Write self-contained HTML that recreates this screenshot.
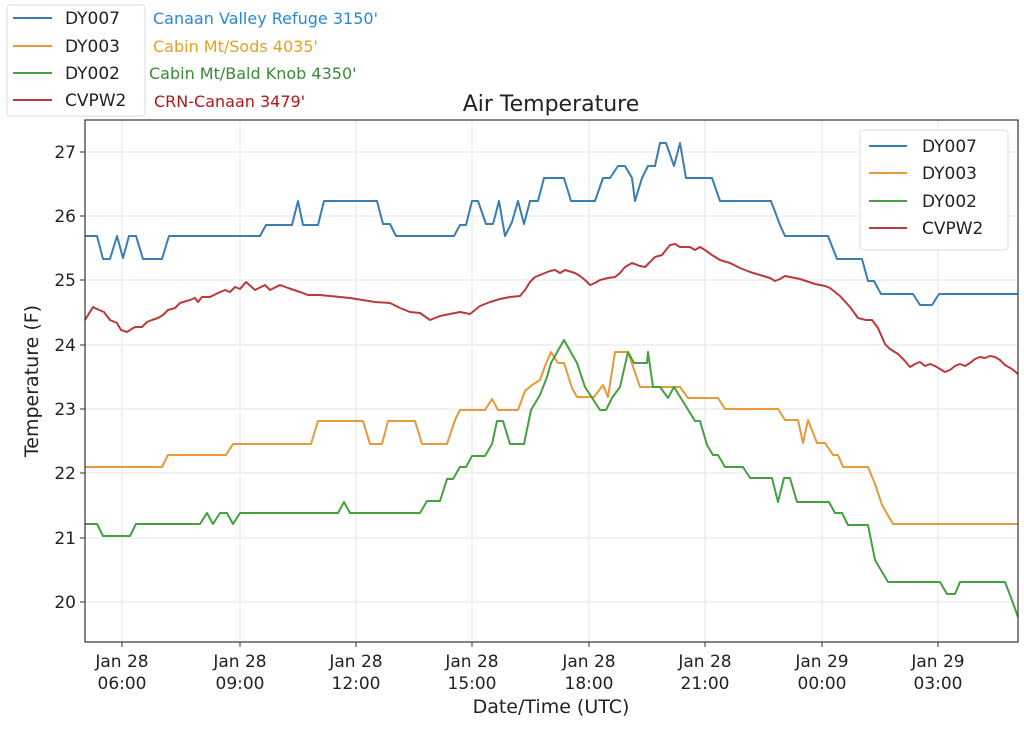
<!DOCTYPE html>
<html><head><meta charset="utf-8"><style>
body{margin:0;background:#fff;width:1024px;height:728px;overflow:hidden}
svg text{font-family:"DejaVu Sans","Liberation Sans",sans-serif}
</style></head><body>
<svg width="1024" height="728" viewBox="0 0 1024 728">
<rect x="0" y="0" width="1024" height="728" fill="#fff"/>
<g stroke="#e6e6e6" stroke-width="1">
<line x1="122" y1="120" x2="122" y2="642"/><line x1="240" y1="120" x2="240" y2="642"/><line x1="356" y1="120" x2="356" y2="642"/><line x1="472" y1="120" x2="472" y2="642"/><line x1="589" y1="120" x2="589" y2="642"/><line x1="705" y1="120" x2="705" y2="642"/><line x1="822" y1="120" x2="822" y2="642"/><line x1="938" y1="120" x2="938" y2="642"/>
<line x1="85" y1="152" x2="1018" y2="152"/><line x1="85" y1="216" x2="1018" y2="216"/><line x1="85" y1="280" x2="1018" y2="280"/><line x1="85" y1="345" x2="1018" y2="345"/><line x1="85" y1="409" x2="1018" y2="409"/><line x1="85" y1="473" x2="1018" y2="473"/><line x1="85" y1="538" x2="1018" y2="538"/><line x1="85" y1="602" x2="1018" y2="602"/>
</g>
<g fill="none" stroke-width="2" stroke-linejoin="round">
<polyline stroke="#3a7db0" points="85,236 97,236 103,259 110,259 117,236 123,258 129,236 136,236 143,259 162,259 169,236 260,236 266,225 292,225 298,201 303,225 318,225 324,201 377,201 383,224 390,224 396,236 454,236 460,225 466,225 472,201 478,201 486,224 493,224 499,201 505,236 512,222 518,201 524,224 530,201 538,201 544,178 564,178 571,201 595,201 603,178 610,178 618,166 625,166 632,178 635,201 642,178 648,166 655,166 660,143 666,143 674,166 680,143 686,178 712,178 720,201 771,201 780,225 785,236 828,236 837,259 862,259 868,281 874,281 881,294 913,294 920,305 932,305 939,294 1018,294"/>
<polyline stroke="#b83a3a" points="85,320 93,307 99,310 104,312 110,320 117,323 121,330 127,332 130,330 135,327 142,327 147,322 152,320 158,318 163,315 168,310 175,308 180,303 190,300 195,298 198,302 202,297 210,297 218,293 225,290 230,292 235,287 240,289 246,282 255,290 265,285 270,290 280,285 288,288 300,292 308,295 320,295 350,298 375,302 390,303 400,308 410,312 420,313 430,320 440,316 450,314 460,312 470,314 475,310 480,306 490,302 500,299 510,297 520,296 525,290 530,282 535,277 540,275 550,271 555,270 560,273 565,270 575,273 580,276 585,280 590,285 595,283 600,280 608,278 615,277 620,273 625,267 632,263 640,266 645,267 650,262 655,257 662,255 670,245 675,244 680,247 690,247 695,250 700,247 705,250 712,255 720,260 730,263 740,268 750,272 760,275 770,278 775,281 780,279 785,276 800,279 815,284 825,286 830,288 840,296 850,307 858,318 866,320 872,320 878,328 885,344 890,349 898,354 905,361 910,367 915,364 920,362 925,366 930,364 935,366 940,369 945,372 950,370 955,366 960,364 965,366 970,363 975,359 980,357 985,358 990,356 995,357 1000,360 1005,365 1012,369 1018,374"/>
<polyline stroke="#e69a3a" points="85,467 162,467 168,455 226,455 233,444 311,444 318,421 363,421 370,444 382,444 388,421 415,421 422,444 447,444 455,420 460,410 485,410 492,399 498,410 518,410 525,391 532,385 540,380 545,366 551,352 558,363 564,363 572,388 577,397 594,397 603,385 608,397 615,352 628,352 640,387 680,387 688,398 718,398 725,409 778,409 785,420 798,420 803,443 808,420 817,443 825,443 833,455 838,455 843,467 868,467 875,484 882,505 893,524 1018,524"/>
<polyline stroke="#45a040" points="85,524 97,524 103,536 130,536 136,524 200,524 207,513 213,524 220,513 227,513 233,524 240,513 338,513 344,502 350,513 420,513 427,501 440,501 447,479 453,479 460,467 466,467 472,456 485,456 492,444 497,421 503,421 510,444 524,444 531,410 540,395 547,377 551,363 564,340 577,363 585,387 600,410 606,410 612,398 620,387 628,352 634,363 647,363 648,352 653,387 660,387 668,398 674,387 695,421 700,421 707,445 713,455 718,455 725,467 743,467 750,478 772,478 778,502 784,478 790,478 797,502 829,502 835,513 842,513 848,525 868,525 875,560 888,582 940,582 947,594 955,594 960,582 1005,582 1010,595 1018,617"/>
</g>
<rect x="85" y="120" width="933" height="522" fill="none" stroke="#333" stroke-width="1.2"/>
<g stroke="#333" stroke-width="1">
<line x1="80" y1="152" x2="85" y2="152"/><line x1="80" y1="216" x2="85" y2="216"/><line x1="80" y1="280" x2="85" y2="280"/><line x1="80" y1="345" x2="85" y2="345"/><line x1="80" y1="409" x2="85" y2="409"/><line x1="80" y1="473" x2="85" y2="473"/><line x1="80" y1="538" x2="85" y2="538"/><line x1="80" y1="602" x2="85" y2="602"/>
<line x1="122" y1="642" x2="122" y2="647"/><line x1="240" y1="642" x2="240" y2="647"/><line x1="356" y1="642" x2="356" y2="647"/><line x1="472" y1="642" x2="472" y2="647"/><line x1="589" y1="642" x2="589" y2="647"/><line x1="705" y1="642" x2="705" y2="647"/><line x1="822" y1="642" x2="822" y2="647"/><line x1="938" y1="642" x2="938" y2="647"/>
</g>
<g font-size="17" fill="#222" text-anchor="end">
<text x="76" y="158">27</text><text x="76" y="222">26</text><text x="76" y="286">25</text><text x="76" y="351">24</text><text x="76" y="415">23</text><text x="76" y="479">22</text><text x="76" y="544">21</text><text x="76" y="608">20</text>
</g>
<g font-size="17" fill="#222" text-anchor="middle">
<text x="122" y="667">Jan 28</text><text x="122" y="689">06:00</text>
<text x="240" y="667">Jan 28</text><text x="240" y="689">09:00</text>
<text x="356" y="667">Jan 28</text><text x="356" y="689">12:00</text>
<text x="472" y="667">Jan 28</text><text x="472" y="689">15:00</text>
<text x="589" y="667">Jan 28</text><text x="589" y="689">18:00</text>
<text x="705" y="667">Jan 28</text><text x="705" y="689">21:00</text>
<text x="822" y="667">Jan 29</text><text x="822" y="689">00:00</text>
<text x="938" y="667">Jan 29</text><text x="938" y="689">03:00</text>
<text x="551" y="713" font-size="19">Date/Time (UTC)</text>
<text x="551" y="111" font-size="22">Air Temperature</text>
</g>
<text transform="translate(38,381) rotate(-90)" font-size="19" fill="#222" text-anchor="middle">Temperature (F)</text>
<rect x="860" y="130" width="148" height="120" rx="3" fill="#fff" fill-opacity="0.85" stroke="#ddd"/>
<g stroke-width="2">
<line x1="869" y1="146" x2="907" y2="146" stroke="#3a7db0"/>
<line x1="869" y1="173" x2="907" y2="173" stroke="#e69a3a"/>
<line x1="869" y1="201" x2="907" y2="201" stroke="#45a040"/>
<line x1="869" y1="228" x2="907" y2="228" stroke="#b83a3a"/>
</g>
<g font-size="17" fill="#222">
<text x="922" y="152">DY007</text><text x="922" y="179">DY003</text><text x="922" y="207">DY002</text><text x="922" y="234">CVPW2</text>
</g>
<rect x="7" y="5" width="138" height="111" rx="3" fill="#fff" stroke="#ddd"/>
<g stroke-width="2">
<line x1="13" y1="18" x2="52" y2="18" stroke="#3a7db0"/>
<line x1="13" y1="46" x2="52" y2="46" stroke="#e69a3a"/>
<line x1="13" y1="73" x2="52" y2="73" stroke="#45a040"/>
<line x1="13" y1="100" x2="52" y2="100" stroke="#b83a3a"/>
</g>
<g font-size="17" fill="#222">
<text x="65" y="24">DY007</text><text x="65" y="52">DY003</text><text x="65" y="79">DY002</text><text x="65" y="106">CVPW2</text>
</g>
<g font-size="16" font-family="Liberation Sans,sans-serif">
<text x="153" y="24" fill="#2a86d8">Canaan Valley Refuge 3150'</text>
<text x="153" y="52" fill="#e8a020">Cabin Mt/Sods 4035'</text>
<text x="149" y="79" fill="#3a8a3a">Cabin Mt/Bald Knob 4350'</text>
<text x="154" y="107" fill="#b01818">CRN-Canaan 3479'</text>
</g>
</svg>
</body></html>
